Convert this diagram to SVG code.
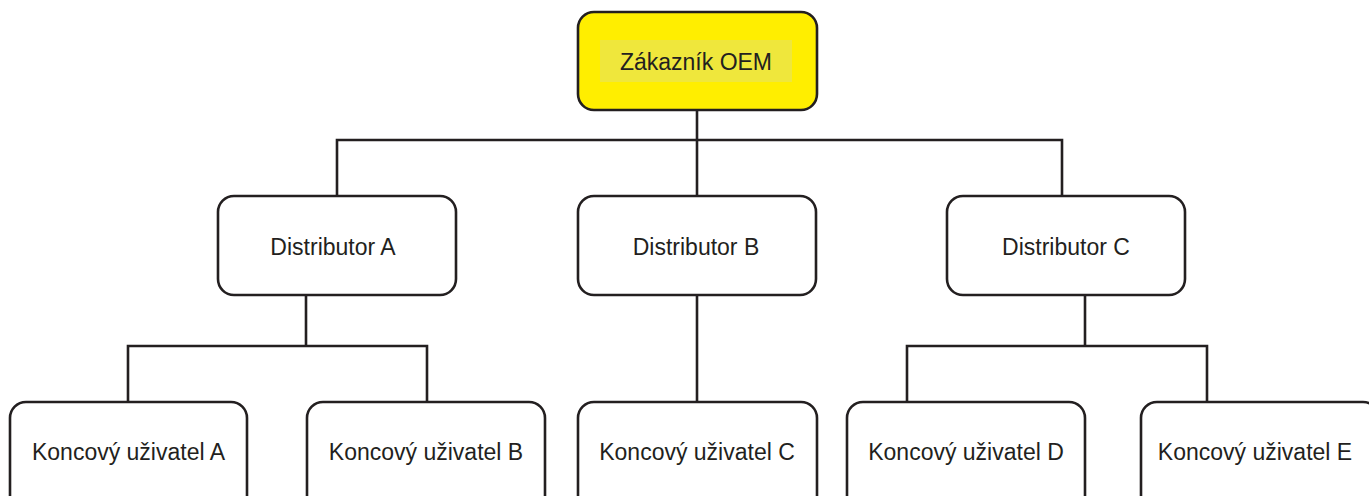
<svg xmlns="http://www.w3.org/2000/svg" width="1369" height="496" viewBox="0 0 1369 496">
<style>
.box{fill:#ffffff;stroke:#231f20;stroke-width:2.6}
.top{fill:#ffee00;stroke:#231f20;stroke-width:2.6}
.hl{fill:#efe73c}
.lbl{font-family:"Liberation Sans",Arial,sans-serif;font-size:23px;fill:#231f20;text-anchor:middle}
.conn{fill:none;stroke:#231f20;stroke-width:2.6}
</style>
<rect width="1369" height="496" fill="#ffffff"/>
<g id="connectors">
<path class="conn" d="M697,110 V196"/>
<path class="conn" d="M337,196 V140 H1062 V196"/>
<path class="conn" d="M306,295 V346"/>
<path class="conn" d="M128,402 V346 H427 V402"/>
<path class="conn" d="M697,295 V402"/>
<path class="conn" d="M1085,295 V346"/>
<path class="conn" d="M907,402 V346 H1207 V402"/>
</g>
<g id="oem">
<rect class="top" x="578" y="12" width="239" height="98" rx="16"/>
<rect class="hl" x="600" y="40" width="192" height="42"/>
<text class="lbl" x="696" y="70">Zákazník OEM</text>
</g>
<g id="distA">
<rect class="box" x="218" y="196" width="238" height="99" rx="16"/>
<text class="lbl" x="333" y="255">Distributor A</text>
</g>
<g id="distB">
<rect class="box" x="578" y="196" width="238" height="99" rx="16"/>
<text class="lbl" x="696" y="255">Distributor B</text>
</g>
<g id="distC">
<rect class="box" x="947" y="196" width="238" height="99" rx="16"/>
<text class="lbl" x="1066" y="255">Distributor C</text>
</g>
<g id="endA">
<rect class="box" x="10" y="402" width="237" height="110" rx="16"/>
<text class="lbl" x="128.5" y="460">Koncový uživatel A</text>
</g>
<g id="endB">
<rect class="box" x="307" y="402" width="238" height="110" rx="16"/>
<text class="lbl" x="426" y="460">Koncový uživatel B</text>
</g>
<g id="endC">
<rect class="box" x="578" y="402" width="239" height="110" rx="16"/>
<text class="lbl" x="697" y="460">Koncový uživatel C</text>
</g>
<g id="endD">
<rect class="box" x="847" y="402" width="238" height="110" rx="16"/>
<text class="lbl" x="966" y="460">Koncový uživatel D</text>
</g>
<g id="endE">
<rect class="box" x="1141" y="402" width="238" height="110" rx="16"/>
<text class="lbl" x="1255" y="460">Koncový uživatel E</text>
</g>
</svg>
